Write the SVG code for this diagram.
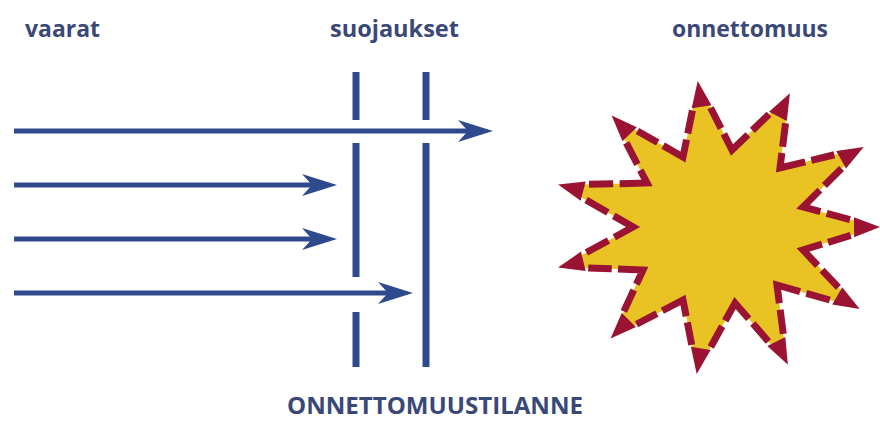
<svg xmlns="http://www.w3.org/2000/svg" width="880" height="421" viewBox="0 0 880 421">
<defs>
<style>
.lbl{font-family:"Open Sans","Liberation Sans",sans-serif;font-weight:bold;fill:#3a4878;}
.h{stroke:#2e4a8c;stroke-width:5;fill:none;}
.v{stroke:#2e4a8c;stroke-width:7;fill:none;}
.ah{fill:#2e4a8c;}
.edge{fill:none;stroke:#9a1332;stroke-width:7;stroke-dasharray:0 18 15 4 26 4 15 18;}
.tip{fill:#9a1332;}
</style>
<path id="head" d="M0,0 L-35,-11 L-25,0 L-35,11 Z"/>
<polygon id="tri" points="2,0 -24,-10 -24,10"/>
</defs>
<rect width="880" height="421" fill="#ffffff"/>
<g id="labels">
<text class="lbl" x="25" y="37" font-size="24" textLength="75" lengthAdjust="spacingAndGlyphs">vaarat</text>
<text class="lbl" x="330" y="37" font-size="24" textLength="129" lengthAdjust="spacingAndGlyphs">suojaukset</text>
<text class="lbl" x="672" y="37" font-size="24" textLength="156" lengthAdjust="spacingAndGlyphs">onnettomuus</text>
<text class="lbl" x="287" y="414" font-size="24" textLength="296" lengthAdjust="spacingAndGlyphs">ONNETTOMUUSTILANNE</text>
</g>
<g id="barriers">
<line class="v" x1="356" y1="72" x2="356" y2="120"/>
<line class="v" x1="356" y1="143" x2="356" y2="277"/>
<line class="v" x1="356" y1="312" x2="356" y2="367"/>
<line class="v" x1="426" y1="72" x2="426" y2="120"/>
<line class="v" x1="426" y1="143" x2="426" y2="367"/>
</g>
<g id="connectors">
<line class="h" x1="14" y1="131" x2="470" y2="131"/>
<use href="#head" class="ah" transform="translate(493,131)"/>
<line class="h" x1="14" y1="185" x2="314" y2="185"/>
<use href="#head" class="ah" transform="translate(337,185)"/>
<line class="h" x1="14" y1="239" x2="314" y2="239"/>
<use href="#head" class="ah" transform="translate(337,239)"/>
<line class="h" x1="14" y1="293" x2="390" y2="293"/>
<use href="#head" class="ah" transform="translate(413,293)"/>
</g>
<g id="accident">
<polygon fill="#e8c323" points="698,83 732,150 789,95 780,168 862,148 803,207 878,227 803,250 858,308 777,285 787,363 735,303 697,372 683,300 612,337 643,270 560,267 633,227 560,185 647,183 613,117 683,157"/>
<path class="edge" pathLength="100" d="M698,83 L732,150 L789,95"/>
<path class="edge" pathLength="100" d="M789,95 L780,168 L862,148"/>
<path class="edge" pathLength="100" d="M862,148 L803,207 L878,227"/>
<path class="edge" pathLength="100" d="M878,227 L803,250 L858,308"/>
<path class="edge" pathLength="100" d="M858,308 L777,285 L787,363"/>
<path class="edge" pathLength="100" d="M787,363 L735,303 L697,372"/>
<path class="edge" pathLength="100" d="M697,372 L683,300 L612,337"/>
<path class="edge" pathLength="100" d="M612,337 L643,270 L560,267"/>
<path class="edge" pathLength="100" d="M560,267 L633,227 L560,185"/>
<path class="edge" pathLength="100" d="M560,185 L647,183 L613,117"/>
<path class="edge" pathLength="100" d="M613,117 L683,157 L698,83"/>
<use href="#tri" class="tip" transform="translate(698,83) rotate(-98.6)"/>
<use href="#tri" class="tip" transform="translate(789,95) rotate(-62.6)"/>
<use href="#tri" class="tip" transform="translate(862,148) rotate(-29.4)"/>
<use href="#tri" class="tip" transform="translate(878,227) rotate(-0.4)"/>
<use href="#tri" class="tip" transform="translate(858,308) rotate(30.1)"/>
<use href="#tri" class="tip" transform="translate(787,363) rotate(63.6)"/>
<use href="#tri" class="tip" transform="translate(697,372) rotate(99.1)"/>
<use href="#tri" class="tip" transform="translate(612,337) rotate(134.7)"/>
<use href="#tri" class="tip" transform="translate(560,267) rotate(166.3)"/>
<use href="#tri" class="tip" transform="translate(560,185) rotate(195)"/>
<use href="#tri" class="tip" transform="translate(613,117) rotate(-134)"/>
</g>
</svg>
